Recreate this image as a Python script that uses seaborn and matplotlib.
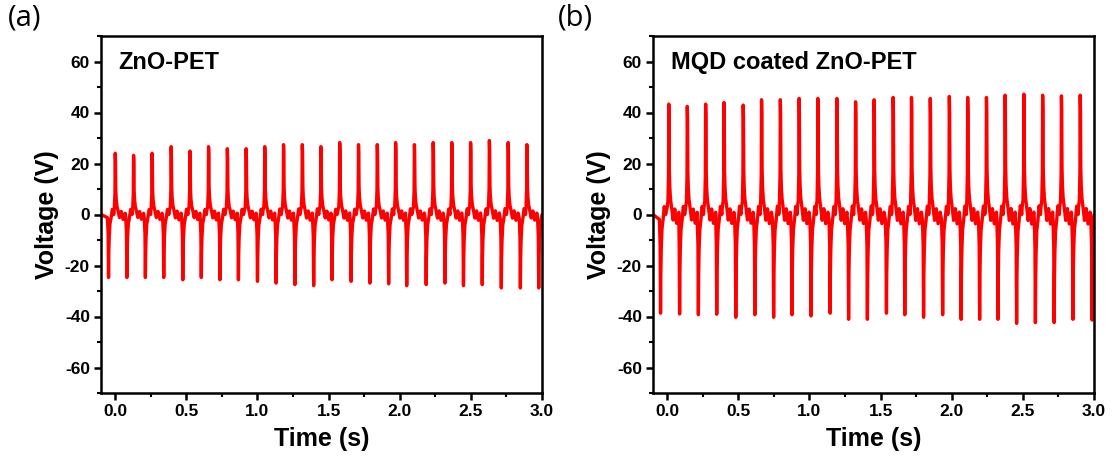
import numpy as np
import matplotlib
matplotlib.use("Agg")
import matplotlib.pyplot as plt
import seaborn as sns
from matplotlib.ticker import MultipleLocator

# peak / trough times (s) and voltages (V)
a_pos_t = [0.000, 0.129, 0.259, 0.393, 0.525, 0.656, 0.788, 0.920, 1.051, 1.183, 1.315, 1.446,
           1.578, 1.710, 1.842, 1.971, 2.103, 2.235, 2.366, 2.498, 2.630, 2.762, 2.894]
a_pos_v = [24.0, 23.2, 24.0, 26.6, 24.9, 26.6, 25.8, 25.8, 26.6, 27.4, 27.4, 26.6,
           28.2, 27.4, 27.4, 28.2, 27.4, 28.2, 28.2, 28.2, 29.0, 28.2, 27.4]
a_neg_t = [-0.047, 0.082, 0.212, 0.341, 0.475, 0.605, 0.736, 0.866, 1.000, 1.131, 1.263, 1.395,
           1.524, 1.658, 1.790, 1.922, 2.049, 2.186, 2.318, 2.448, 2.580, 2.714, 2.848, 2.977]
a_neg_v = [-24.7, -24.7, -24.7, -24.7, -25.6, -24.7, -25.6, -25.6, -26.2, -26.9, -27.5, -27.9,
           -25.6, -26.2, -26.9, -27.2, -27.9, -27.5, -26.9, -27.9, -27.5, -28.8, -28.8, -28.8]

b_pos_t = [0.011, 0.141, 0.270, 0.399, 0.534, 0.663, 0.795, 0.927, 1.059, 1.193, 1.324, 1.454,
           1.588, 1.717, 1.849, 1.983, 2.112, 2.244, 2.375, 2.507, 2.639, 2.771, 2.903]
b_pos_v = [43.3, 42.4, 43.3, 43.9, 42.9, 45.0, 45.0, 45.5, 45.5, 45.5, 44.2, 45.0,
           45.9, 45.9, 45.5, 46.3, 45.9, 45.9, 46.8, 47.2, 46.8, 46.5, 46.8]
b_neg_t = [-0.047, 0.087, 0.219, 0.348, 0.482, 0.616, 0.748, 0.877, 1.011, 1.145, 1.275, 1.407,
           1.541, 1.670, 1.802, 1.936, 2.066, 2.196, 2.325, 2.456, 2.588, 2.720, 2.852, 2.986]
b_neg_v = [-38.7, -39.0, -39.3, -39.1, -40.3, -39.3, -40.3, -39.3, -39.8, -38.7, -41.1, -41.1,
           -38.7, -39.3, -40.3, -39.3, -41.1, -41.1, -41.1, -42.7, -42.4, -42.4, -41.1, -41.4]

# pulse shapes (offset in s, fraction of the peak value)
pos_dt = [-0.012, -0.006, -0.002, 0.0, 0.002, 0.004, 0.007, 0.012, 0.020, 0.030, 0.042, 0.055, 0.070]
pos_fr = [0.06, 0.12, 0.35, 1.0, 0.88, 0.40, 0.25, 0.14, 0.06, -0.05, 0.05, -0.08, 0.02]
neg_dt = [-0.008, -0.003, 0.0, 0.002, 0.005, 0.010, 0.018, 0.026, 0.036]
neg_fr = [0.05, 0.30, 1.0, 0.60, 0.35, 0.15, 0.05, -0.08, 0.0]

panels = [("(a)", "ZnO-PET", a_pos_t, a_pos_v, a_neg_t, a_neg_v),
          ("(b)", "MQD coated ZnO-PET", b_pos_t, b_pos_v, b_neg_t, b_neg_v)]


def trace(pos_t, pos_v, neg_t, neg_v):
    t, v = [-0.1, 3.0], [0.0, 0.0]
    for tp, vp in zip(pos_t, pos_v):
        t += [tp + d for d in pos_dt]
        v += [vp * f for f in pos_fr]
    for tn, vn in zip(neg_t, neg_v):
        t += [tn + d for d in neg_dt]
        v += [vn * f for f in neg_fr]
    order = np.argsort(t)
    t = np.array(t)[order]
    v = np.array(v)[order]
    keep = (t >= -0.1) & (t <= 3.0)
    return t[keep], v[keep]


sns.set_style("ticks")
plt.rcParams["font.family"] = ["Liberation Sans", "DejaVu Sans"]
plt.rcParams["axes.unicode_minus"] = False
for key in ["text.color", "axes.labelcolor", "xtick.color", "ytick.color", "axes.edgecolor"]:
    plt.rcParams[key] = "black"

fig = plt.figure(figsize=(11.13, 4.70), dpi=100)
lefts = [101 / 1113, 653 / 1113]
letter_x = [8 / 1113, 558 / 1113]

for i, (tag, title, pt, pv, nt, nv) in enumerate(panels):
    ax = fig.add_axes([lefts[i], 77 / 470, 441 / 1113, 357 / 470])
    t, v = trace(pt, pv, nt, nv)
    sns.lineplot(x=t, y=v, ax=ax, color="#ff0000", linewidth=2.4,
                 estimator=None, sort=False)
    ax.set_xlim(-0.1, 3.0)
    ax.set_ylim(-70, 70)
    ax.xaxis.set_major_locator(MultipleLocator(0.5))
    ax.xaxis.set_minor_locator(MultipleLocator(0.25))
    ax.yaxis.set_major_locator(MultipleLocator(20))
    ax.yaxis.set_minor_locator(MultipleLocator(10))
    ax.set_xticks(np.arange(0, 3.01, 0.5))
    ax.set_xticklabels([f"{x:.1f}" for x in np.arange(0, 3.01, 0.5)])
    ax.tick_params(which="major", direction="out", length=5, width=1.8,
                   labelsize=12.5, pad=3, color="black", labelcolor="black")
    ax.tick_params(which="minor", direction="out", length=3, width=1.5, color="black")
    for lab in ax.get_xticklabels() + ax.get_yticklabels():
        lab.set_fontweight("bold")
    for s in ax.spines.values():
        s.set_visible(True)
        s.set_linewidth(1.8)
        s.set_color("black")
    ax.set_xlabel("Time (s)", fontsize=18, fontweight="bold", labelpad=6)
    ax.set_ylabel("Voltage (V)", fontsize=18, fontweight="bold", labelpad=4)
    ax.text(0.04, 0.925, title, transform=ax.transAxes, fontsize=17,
            fontweight="bold", va="center", ha="left")
    fig.text(letter_x[i], 1 - 4 / 470, tag, fontsize=21, va="top", ha="left",
             family=["Open Sans", "DejaVu Sans"])

fig.savefig("out.png", dpi=100)
